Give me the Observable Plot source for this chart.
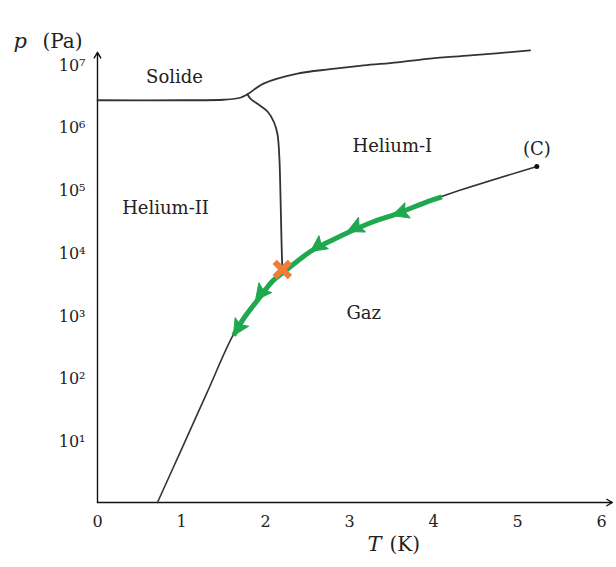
<!DOCTYPE html>
<html><head><meta charset="utf-8">
<script src="https://cdn.jsdelivr.net/npm/d3@7"></script>
<script src="https://cdn.jsdelivr.net/npm/@observablehq/plot@0.6"></script>
<style>body{margin:0;background:#fff}</style>
</head><body><div id="chart"></div>
<script>
// Vaporisation curve (liquid/gas), from ~0.7 K up to the critical point (C)
const vapT = [0.714, 1.0, 1.3, 1.6, 1.74, 1.94, 2.08, 2.24, 2.42, 2.57, 2.81, 3.01, 3.29, 3.57, 3.93, 4.20, 5.23];
const vapP = [1, 7.05, 55, 428, 860, 1930, 3350, 5000, 7800, 10800, 15700, 21000, 30300, 40600, 63000, 85000, 229000];

// Solid boundary (solid / helium-II then solid / helium-I)
const meltT = [0, 1.0, 1.5, 1.70, 1.786, 1.976, 2.38, 2.77, 3.17, 3.57, 3.96, 4.44, 5.15];
const meltP = [2.6e6, 2.6e6, 2.65e6, 2.85e6, 3.24e6, 4.79e6, 6.92e6, 8.13e6, 9.33e6, 1.047e7, 1.202e7, 1.349e7, 1.622e7];

// Lambda line (helium-I / helium-II)
const lambdaT = [1.786, 1.82, 1.917, 2.024, 2.10, 2.143, 2.165, 2.18, 2.19, 2.2];
const lambdaP = [3.24e6, 2.75e6, 2.23e6, 1.72e6, 1.17e6, 7.4e5, 3.16e5, 6.3e4, 1.58e4, 5200];

// Green path along the vaporisation curve, and its arrow tips
const greenT = [1.62, 1.74, 1.94, 2.08, 2.24, 2.42, 2.57, 2.81, 3.01, 3.29, 3.57, 3.93, 4.10];
const greenP = [460, 860, 1930, 3350, 5000, 7800, 10800, 15700, 21000, 30300, 40600, 63000, 75000];
const arrowT = [3.51, 2.976, 2.536, 1.881, 1.619];
const arrowP = [37800, 21000, 10100, 1670, 460];

// Lambda point (orange cross) and critical point
const lambdaPtT = [2.2];
const lambdaPtP = [5200];
const critT = [5.23];
const critP = [229000];

// Region labels
const labelText = ["Solide", "Helium-II", "Helium-I", "Gaz", "(C)"];
const labelT = [0.917, 0.81, 3.51, 3.17, 5.23];
const labelP = [6.0e6, 5.0e4, 4.8e5, 1030, 4.3e5];

// Ticks
const xTicks = [0, 1, 2, 3, 4, 5, 6];
const yTicks = [1e1, 1e2, 1e3, 1e4, 1e5, 1e6, 1e7];
const supDigits = ["⁰","¹","²","³","⁴","⁵","⁶","⁷","⁸","⁹"];

const font = "DejaVu Serif";
const green = "#1fa84f";
const orange = "#f07c35";
const ink = "#333";

const xOpts = {type: "linear", domain: [0, 6], range: [97, 601]};
const yOpts = {type: "log", domain: [1, 10 ** 7.25], range: [502, 47.4]};
const xs = Plot.scale({x: xOpts});
const ys = Plot.scale({y: yOpts});

const rows = (T, P) => T.map((t, i) => ({T: t, p: P[i]}));
const vap = rows(vapT, vapP);
const melt = rows(meltT, meltP);
const lam = rows(lambdaT, lambdaP);
const greenPath = rows(greenT, greenP);

// arrow orientation from the local direction of the curve (screen space)
const arrows = arrowT.map((t, k) => {
  let i = 0;
  while (i < vapT.length - 2 && vapT[i + 1] < t) i++;
  const ax = xs.apply(vapT[i]), ay = ys.apply(vapP[i]);
  const bx = xs.apply(vapT[i + 1]), by = ys.apply(vapP[i + 1]);
  const dx = ax - bx, dy = ay - by;
  return {T: t, p: arrowP[k], angle: Math.atan2(dx, -dy) * 180 / Math.PI};
});

const headShape = {
  draw(context, l) {
    const w = l * 0.5;
    context.moveTo(0, -l);
    context.lineTo(-w, 0);
    context.lineTo(0, -l * 0.2);
    context.lineTo(w, 0);
    context.closePath();
  }
};

const labels = labelText.map((s, i) => ({s, T: labelT[i], p: labelP[i]}));

const chart = Plot.plot({
  width: 616,
  height: 567,
  marginLeft: 97,
  marginRight: 15,
  marginTop: 47,
  marginBottom: 65,
  x: xOpts,
  y: yOpts,
  style: {fontFamily: font, background: "#fff"},
  marks: [
    Plot.axisX({ticks: xTicks, tickFormat: d => String(d), tickSize: 0, tickPadding: 13, fontSize: 16, fontFamily: font, fill: "#222", label: null}),
    Plot.axisY({ticks: yTicks, tickSize: 0, tickPadding: 12, fontSize: 16, fontFamily: font, fill: "#222", dy: 2, label: null,
      tickFormat: d => "10" + supDigits[Math.round(Math.log10(d))]}),
    // axis lines with arrowheads
    Plot.arrow([0], {x1: () => 0, y1: () => 1, x2: () => 6.13, y2: () => 1, stroke: "#111", strokeWidth: 1.4, headLength: 7, clip: false}),
    Plot.arrow([0], {x1: () => 0, y1: () => 1, x2: () => 0, y2: () => 10 ** 7.18, stroke: "#111", strokeWidth: 1.4, headLength: 7, clip: false}),
    // phase boundaries
    Plot.line(melt, {x: "T", y: "p", stroke: ink, strokeWidth: 1.8, curve: "catmull-rom"}),
    Plot.line(lam, {x: "T", y: "p", stroke: ink, strokeWidth: 1.8, curve: "catmull-rom"}),
    Plot.line(vap, {x: "T", y: "p", stroke: ink, strokeWidth: 1.6, curve: "catmull-rom"}),
    // green path and arrowheads
    Plot.line(greenPath, {x: "T", y: "p", stroke: green, strokeWidth: 5, curve: "catmull-rom", strokeLinecap: "butt"}),
    Plot.vector(arrows, {x: "T", y: "p", rotate: "angle", length: 16, anchor: "end", shape: headShape, fill: green, stroke: green, strokeWidth: 1}),
    // lambda point and critical point
    Plot.dot(rows(lambdaPtT, lambdaPtP), {x: "T", y: "p", symbol: "times", r: 7, stroke: orange, strokeWidth: 6}),
    Plot.dot(rows(critT, critP), {x: "T", y: "p", r: 2.5, fill: "#111", stroke: "none"}),
    // region labels
    Plot.text(labels, {x: "T", y: "p", text: "s", fontSize: 18, fontFamily: font, fill: "#222"}),
    // axis titles
    Plot.text(["p"], {frameAnchor: "top-left", text: d => d, dx: -84, dy: -14, textAnchor: "start", fontSize: 21, fontStyle: "italic", fontFamily: font, fill: "#222"}),
    Plot.text(["(Pa)"], {frameAnchor: "top-left", text: d => d, dx: -55, dy: -14, textAnchor: "start", fontSize: 20, fontFamily: font, fill: "#222"}),
    Plot.text(["T"], {frameAnchor: "bottom-left", text: d => d, dx: 270, dy: 48, textAnchor: "start", fontSize: 21, fontStyle: "italic", fontFamily: font, fill: "#222"}),
    Plot.text(["(K)"], {frameAnchor: "bottom-left", text: d => d, dx: 292, dy: 48, textAnchor: "start", fontSize: 20, fontFamily: font, fill: "#222"})
  ]
});
document.getElementById("chart").appendChild(chart);
</script>
</body></html>
